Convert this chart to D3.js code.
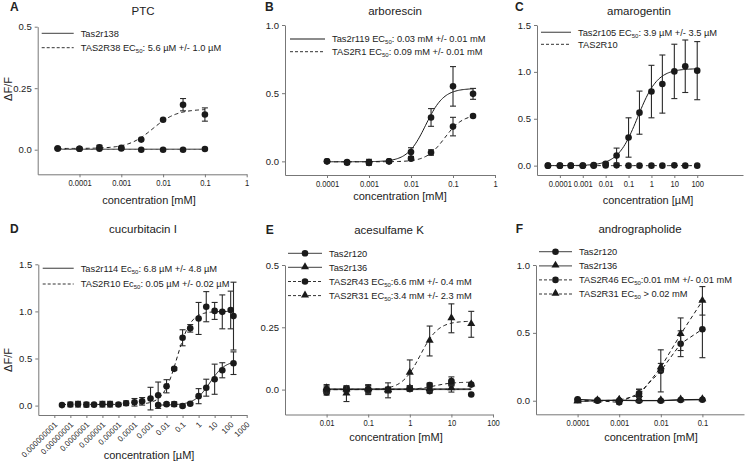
<!DOCTYPE html>
<html>
<head>
<meta charset="utf-8">
<script src="https://cdn.jsdelivr.net/npm/d3@7"></script>
<style>
  body { margin: 0; background: #fff; }
  text { font-family: "Liberation Sans", Arial, sans-serif; fill: #222; }
</style>
</head>
<body>
<svg id="chart" width="745" height="461"></svg>
<script>
// ---- A: PTC (mM)
var concA = [0.00003, 0.0001, 0.0003, 0.001, 0.003, 0.01, 0.03, 0.1];
var tas2r138A = [0.005, 0.004, 0.004, 0.005, 0.0, 0.0, 0.0, 0.003];
var tas2r138AErr = [0.003, 0.003, 0.003, 0.003, 0.003, 0.002, 0.002, 0.003];
var tas2r38A = [0.005, 0.004, 0.01, 0.008, 0.041, 0.122, 0.183, 0.143];
var tas2r38AErr = [0.003, 0.003, 0.008, 0.004, 0.004, 0.005, 0.025, 0.027];
// fit: [bottom, top, logEC50, hill]
var fit138A = [0.002, 0.002, -2, 1];
var fit38A = [0.005, 0.165, -2.25, 1.5];

// ---- B: arborescin (mM)
var concB = [0.0001, 0.0003, 0.001, 0.003, 0.01, 0.03, 0.1, 0.3];
var tas2r119B = [0.0, -0.005, -0.005, 0.0, 0.068, 0.322, 0.55, 0.495];
var tas2r119BErr = [0.004, 0.01, 0.02, 0.01, 0.032, 0.065, 0.145, 0.04];
var tas2r1B = [0.0, -0.01, -0.012, 0.0, 0.02, 0.065, 0.255, 0.333];
var tas2r1BErr = [0.004, 0.01, 0.015, 0.006, 0.01, 0.02, 0.068, 0.005];
var fit119B = [-0.003, 0.535, -1.65, 2];
var fit1B = [-0.003, 0.345, -1.2, 2];

// ---- C: amarogentin (µM)
var concC = [0.00003, 0.0001, 0.0003, 0.001, 0.003, 0.01, 0.03, 0.1, 0.3, 1, 3, 10, 30, 100];
var tas2r105C = [0.0, 0.0, 0.0, 0.0, 0.005, 0.02, 0.107, 0.30, 0.565, 0.79, 0.87, 1.005, 1.06, 1.013];
var tas2r105CErr = [0.004, 0.004, 0.004, 0.004, 0.01, 0.015, 0.08, 0.21, 0.23, 0.28, 0.31, 0.29, 0.28, 0.31];
var tas2r10C = [0, 0, 0, 0, 0, 0.002, 0.003, 0, 0, 0, 0, 0.003, 0, 0];
var tas2r10CErr = [0.003, 0.003, 0.003, 0.003, 0.003, 0.003, 0.003, 0.003, 0.003, 0.003, 0.003, 0.003, 0.003, 0.003];
var fit105C = [0.0, 1.035, -0.6, 1];
var fit10C = [0.0, 0.0, 0, 1];

// ---- D: cucurbitacin I (µM)
var concD10 = [3e-9, 1e-8, 3e-8, 1e-7, 3e-7, 1e-6, 3e-6, 1e-5, 3e-5, 1e-4, 3e-4, 0.001, 0.003, 0.01, 0.03, 0.1, 0.3, 1, 3, 10, 30, 100, 150];
var tas2r10D = [0.005, 0.012, 0.015, 0.01, 0.01, 0.015, 0.015, 0.012, 0.025, 0.035, 0.045, 0.074, 0.11, 0.205, 0.39, 0.72, 0.82, 0.925, 1.05, 1.005, 0.995, 1.015, 0.95];
var tas2r10DErr = [0.004, 0.025, 0.03, 0.025, 0.01, 0.03, 0.03, 0.015, 0.025, 0.04, 0.04, 0.12, 0.14, 0.07, 0.015, 0.085, 0.04, 0.17, 0.16, 0.09, 0.18, 0.2, 0.36];
var concD114 = [0.003, 0.01, 0.03, 0.1, 0.3, 1, 3, 10, 30, 150];
var tas2r114D = [0.005, 0.015, 0.015, -0.005, 0.02, 0.10, 0.19, 0.28, 0.375, 0.45];
var tas2r114DErr = [0.01, 0.015, 0.025, 0.01, 0.01, 0.08, 0.09, 0.16, 0.08, 0.12];
var fit10D = [0.012, 1.0, -1.35, 1];
var fit114D = [0.005, 0.48, 0.7, 0.9];

// ---- E: acesulfame K (mM)
var concE = [0.01, 0.03, 0.1, 0.3, 1, 3, 10, 30];
var tas2r120E = [-0.012, 0.002, 0.0, -0.002, 0.002, -0.006, 0.024, -0.02];
var tas2r120EErr = [0.01, 0.008, 0.01, 0.01, 0.008, 0.008, 0.01, 0.004];
var tas2r136E = [0.005, 0.0, 0.002, -0.003, 0.005, 0.002, 0.005, 0.02];
var tas2r136EErr = [0.015, 0.01, 0.015, 0.01, 0.01, 0.008, 0.015, 0.005];
var tas2r43E = [0.0, 0.002, 0.0, 0.0, 0.005, 0.018, 0.034, 0.02];
var tas2r43EErr = [0.01, 0.01, 0.015, 0.01, 0.01, 0.008, 0.017, 0.005];
var tas2r31E = [0.0, -0.016, 0.0, -0.003, 0.067, 0.195, 0.286, 0.262];
var tas2r31EErr = [0.015, 0.032, 0.02, 0.03, 0.052, 0.06, 0.058, 0.052];
var fit120E = [0.0, 0.0, 0, 1];
var fit136E = [0.003, 0.003, 0, 1];
var fit43E = [0.0, 0.03, 0.6, 2];
var fit31E = [0.0, 0.275, 0.25, 2];

// ---- F: andrographolide (mM)
var concF = [0.0001, 0.0003, 0.001, 0.003, 0.01, 0.03, 0.1];
var tas2r120F = [0.01, 0.004, 0.002, 0.0, 0.0, 0.005, 0.007];
var tas2r120FErr = [0.004, 0.004, 0.004, 0.004, 0.004, 0.004, 0.004];
var tas2r136F = [-0.005, 0.0, 0.005, 0.002, 0.002, 0.008, 0.01];
var tas2r136FErr = [0.004, 0.004, 0.004, 0.004, 0.004, 0.004, 0.004];
var tas2r46F = [0.005, 0.0, -0.012, 0.054, 0.22, 0.42, 0.527];
var tas2r46FErr = [0.005, 0.005, 0.012, 0.03, 0.155, 0.095, 0.21];
var tas2r31F = [-0.005, 0.0, 0.005, 0.04, 0.245, 0.49, 0.736];
var tas2r31FErr = [0.004, 0.004, 0.005, 0.045, 0.03, 0.12, 0.105];

// axis ticks
var mMTicks = [0.0001, 0.001, 0.01, 0.1, 1];
var mMLabels = ["0.0001", "0.001", "0.01", "0.1", "1"];
var ticksC = [0.0001, 0.001, 0.01, 0.1, 1, 10, 100];
var labelsC = ["0.0001", "0.001", "0.01", "0.1", "1", "10", "100"];
var ticksD = [1e-9, 1e-8, 1e-7, 1e-6, 1e-5, 1e-4, 1e-3, 0.01, 0.1, 1, 10, 100, 1000];
var labelsD = ["0.000000001", "0.00000001", "0.0000001", "0.000001", "0.00001", "0.0001", "0.001", "0.01", "0.1", "1", "10", "100", "1000"];
var ticksE = [0.01, 0.1, 1, 10, 100];
var labelsE = ["0.01", "0.1", "1", "10", "100"];
var ticksF = [0.0001, 0.001, 0.01, 0.1];
var labelsF = ["0.0001", "0.001", "0.01", "0.1"];

var svg = d3.select("#chart");
var ink = "#1a1a1a";

function hill(p, c) {
  return p[0] + (p[1] - p[0]) / (1 + Math.pow(10, (p[2] - Math.log10(c)) * p[3]));
}

function marker(sel, shape, px, py) {
  if (shape == "tri") {
    sel.append("path")
      .attr("d", d3.symbol().type(d3.symbolTriangle).size(28)())
      .attr("transform", "translate(" + px + "," + (py - 0.5) + ")")
      .attr("fill", ink);
  } else {
    sel.append("circle").attr("cx", px).attr("cy", py).attr("r", 3.3).attr("fill", ink);
  }
}

function drawPanel(p) {
  var g = svg.append("g");
  var x = d3.scaleLog().domain(p.xDomain).range([p.left, p.right]);
  var y = d3.scaleLinear().domain(p.yDomain).range([p.bottom, p.top]);

  var xAxis = g.append("g")
    .attr("transform", "translate(0," + p.bottom + ")")
    .call(d3.axisBottom(x).tickValues(p.xTicks)
      .tickFormat(function(d, i) { return p.xLabels[i]; })
      .tickSize(3).tickSizeOuter(0).tickPadding(2));
  var yAxis = g.append("g")
    .attr("transform", "translate(" + p.left + ",0)")
    .call(d3.axisLeft(y).tickValues(p.yTicks)
      .tickFormat(function(d, i) { return p.yLabels[i]; })
      .tickSize(3).tickSizeOuter(0).tickPadding(3));
  g.selectAll(".domain, .tick line").attr("stroke", "#777");
  g.selectAll(".tick text").style("font-family", '"Liberation Sans", Arial, sans-serif').attr("fill", "#333");
  yAxis.selectAll(".tick text").style("font-size", "9.5px");
  if (p.rotated) {
    xAxis.selectAll(".tick text")
      .style("font-size", "8px")
      .attr("text-anchor", "end")
      .attr("y", 0).attr("dy", "0.35em")
      .attr("transform", "translate(1,8) rotate(-45)");
  } else {
    xAxis.selectAll(".tick text")
      .style("font-size", "9.5px")
      .attr("transform", "scale(0.8,1)");
  }

  var line = d3.line().x(function(d) { return x(d[0]); }).y(function(d) { return y(d[1]); });

  p.series.forEach(function(s) {
    var pts;
    if (s.fit) {
      var lo = Math.log10(d3.min(s.x)), hi = Math.log10(d3.max(s.x));
      pts = d3.range(0, 121).map(function(i) {
        var c = Math.pow(10, lo + (hi - lo) * i / 120);
        return [c, hill(s.fit, c)];
      });
    } else {
      pts = s.x.map(function(c, i) { return [c, s.y[i]]; });
    }
    g.append("path").datum(pts)
      .attr("d", line)
      .attr("fill", "none")
      .attr("stroke", ink)
      .attr("stroke-width", 1)
      .attr("stroke-dasharray", s.dashed ? "4,3" : null);

    s.x.forEach(function(c, i) {
      var e = s.err[i];
      if (e > 0.006) {
        var cx = x(c), y1 = y(s.y[i] - e), y2 = y(s.y[i] + e);
        g.append("line").attr("x1", cx).attr("x2", cx).attr("y1", y1).attr("y2", y2)
          .attr("stroke", "#2a2a2a").attr("stroke-width", 1.1);
        [y1, y2].forEach(function(yy) {
          g.append("line").attr("x1", cx - 3).attr("x2", cx + 3).attr("y1", yy).attr("y2", yy)
            .attr("stroke", "#2a2a2a").attr("stroke-width", 1.1);
        });
      }
    });
    s.x.forEach(function(c, i) { marker(g, s.shape, x(c), y(s.y[i])); });
  });

  // legend
  p.legend.forEach(function(l, i) {
    var ly = p.legY + i * p.legStep;
    g.append("line")
      .attr("x1", p.legX).attr("x2", p.legX + p.legLen)
      .attr("y1", ly).attr("y2", ly)
      .attr("stroke", l.dashed ? "#333" : "#666")
      .attr("stroke-width", l.dashed ? 1 : 1.3)
      .attr("stroke-dasharray", l.dashed ? "3,2" : null);
    if (l.shape) marker(g, l.shape, p.legX + p.legLen / 2, ly);
    var t = g.append("text")
      .attr("x", p.legX + p.legLen + 7).attr("y", ly + 3.3)
      .style("font-size", "9.3px");
    t.append("tspan").text(l.text[0]);
    if (l.text.length > 1) {
      t.append("tspan").attr("dy", 2).style("font-size", "6px").text(l.text[1]);
      t.append("tspan").attr("dy", -2).text(l.text[2]);
    }
  });

  g.append("text").attr("x", p.titleX).attr("y", p.titleY)
    .attr("text-anchor", "middle").style("font-size", "11.5px").style("font-weight", "normal").text(p.title);
  g.append("text").attr("x", p.letterX).attr("y", p.letterY)
    .style("font-size", "12px").style("font-weight", "bold").text(p.letter);
  g.append("text").attr("x", p.xLabX).attr("y", p.xLabY)
    .attr("text-anchor", "middle").style("font-size", "11px").text(p.xLabel);
  if (p.yLabY) {
    g.append("text")
      .attr("transform", "translate(12," + p.yLabY + ") rotate(-90)")
      .attr("text-anchor", "middle").style("font-size", "11px").text("\u0394F/F");
  }
}

var panels = [
  {
    letter: "A", letterX: 10, letterY: 11, title: "PTC", titleX: 143, titleY: 15,
    left: 37.7, right: 246.7, top: 26.7, bottom: 174.3,
    xDomain: [1e-5, 1], yDomain: [-0.1, 0.5],
    xTicks: mMTicks, xLabels: mMLabels,
    yTicks: [0, 0.25, 0.5], yLabels: ["0.0", "0.25", "0.5"],
    xLabel: "concentration [mM]", xLabX: 149, xLabY: 204, yLabY: 89,
    legX: 41.7, legLen: 32, legY: 33.3, legStep: 14.4,
    legend: [
      { text: ["Tas2r138"] },
      { text: ["TAS2R38 EC", "50", ": 5.6 \u00b5M +/- 1.0 \u00b5M"], dashed: true }
    ],
    series: [
      { x: concA, y: tas2r138A, err: tas2r138AErr, fit: fit138A, shape: "circle" },
      { x: concA, y: tas2r38A, err: tas2r38AErr, fit: fit38A, dashed: true, shape: "circle" }
    ]
  },
  {
    letter: "B", letterX: 265, letterY: 11, title: "arborescin", titleX: 395, titleY: 15,
    left: 285, right: 495, top: 25, bottom: 175,
    xDomain: [1e-5, 1], yDomain: [-0.1, 1.0],
    xTicks: mMTicks, xLabels: mMLabels,
    yTicks: [0, 0.5, 1.0], yLabels: ["0.0", "0.5", "1.0"],
    xLabel: "concentration [mM]", xLabX: 400, xLabY: 199.5,
    legX: 290, legLen: 35, legY: 39, legStep: 12.7,
    legend: [
      { text: ["Tas2r119 EC", "50", ": 0.03 mM +/- 0.01 mM"] },
      { text: ["TAS2R1 EC", "50", ": 0.09 mM +/- 0.01 mM"], dashed: true }
    ],
    series: [
      { x: concB, y: tas2r119B, err: tas2r119BErr, fit: fit119B, shape: "circle" },
      { x: concB, y: tas2r1B, err: tas2r1BErr, fit: fit1B, dashed: true, shape: "circle" }
    ]
  },
  {
    letter: "C", letterX: 515, letterY: 11, title: "amarogentin", titleX: 639, titleY: 15,
    left: 537, right: 743, top: 25, bottom: 175,
    xDomain: [1e-5, 1e4], yDomain: [-0.1, 1.5],
    xTicks: ticksC, xLabels: labelsC,
    yTicks: [0, 0.5, 1.0, 1.5], yLabels: ["0.0", "0.5", "1.0", "1.5"],
    xLabel: "concentration [\u00b5M]", xLabX: 648, xLabY: 204,
    legX: 541, legLen: 30, legY: 32.3, legStep: 12,
    legend: [
      { text: ["Tas2r105 EC", "50", ": 3.9 \u00b5M +/- 3.5 \u00b5M"] },
      { text: ["TAS2R10"], dashed: true }
    ],
    series: [
      { x: concC, y: tas2r10C, err: tas2r10CErr, fit: fit10C, dashed: true, shape: "circle" },
      { x: concC, y: tas2r105C, err: tas2r105CErr, fit: fit105C, shape: "circle" }
    ]
  },
  {
    letter: "D", letterX: 10, letterY: 233, title: "cucurbitacin I", titleX: 143, titleY: 233,
    left: 38.3, right: 246.7, top: 264.3, bottom: 415,
    xDomain: [1e-10, 1000], yDomain: [-0.1, 1.5],
    xTicks: ticksD, xLabels: labelsD, rotated: true,
    yTicks: [0, 0.5, 1.0, 1.5], yLabels: ["0.0", "0.5", "1.0", "1.5"],
    xLabel: "concentration [\u00b5M]", xLabX: 149, xLabY: 459, yLabY: 360,
    legX: 42.7, legLen: 31, legY: 268.3, legStep: 15.7,
    legend: [
      { text: ["Tas2r114 Ec", "50", ": 6.8 \u00b5M +/- 4.8 \u00b5M"] },
      { text: ["TAS2R10 Ec", "50", ": 0.05 \u00b5M +/- 0.02 \u00b5M"], dashed: true }
    ],
    series: [
      { x: concD10, y: tas2r10D, err: tas2r10DErr, fit: fit10D, dashed: true, shape: "circle" },
      { x: concD114, y: tas2r114D, err: tas2r114DErr, fit: fit114D, shape: "circle" }
    ]
  },
  {
    letter: "E", letterX: 265.7, letterY: 234, title: "acesulfame K", titleX: 389, titleY: 234,
    left: 285, right: 493, top: 265, bottom: 414.5,
    xDomain: [0.001, 100], yDomain: [-0.1, 0.5],
    xTicks: ticksE, xLabels: labelsE,
    yTicks: [0, 0.25, 0.5], yLabels: ["0.0", "0.25", "0.5"],
    xLabel: "concentration [mM]", xLabX: 396, xLabY: 441,
    legX: 288, legLen: 34, legY: 253.3, legStep: 14.1,
    legend: [
      { text: ["Tas2r120"], shape: "circle" },
      { text: ["Tas2r136"], shape: "tri" },
      { text: ["TAS2R43 EC", "50", ":6.6 mM +/- 0.4 mM"], dashed: true, shape: "circle" },
      { text: ["TAS2R31 EC", "50", ":3.4 mM +/- 2.3 mM"], dashed: true, shape: "tri" }
    ],
    series: [
      { x: concE, y: tas2r120E, err: tas2r120EErr, fit: fit120E, shape: "circle" },
      { x: concE, y: tas2r136E, err: tas2r136EErr, fit: fit136E, shape: "tri" },
      { x: concE, y: tas2r43E, err: tas2r43EErr, fit: fit43E, dashed: true, shape: "circle" },
      { x: concE, y: tas2r31E, err: tas2r31EErr, fit: fit31E, dashed: true, shape: "tri" }
    ]
  },
  {
    letter: "F", letterX: 515.7, letterY: 233, title: "andrographolide", titleX: 640, titleY: 233,
    left: 536, right: 744, top: 265, bottom: 414.3,
    xDomain: [1e-5, 1], yDomain: [-0.1, 1.0],
    xTicks: ticksF, xLabels: labelsF,
    yTicks: [0, 0.5, 1.0], yLabels: ["0.0", "0.5", "1.0"],
    xLabel: "concentration [mM]", xLabX: 651, xLabY: 441,
    legX: 539, legLen: 33, legY: 251.7, legStep: 14.1,
    legend: [
      { text: ["Tas2r120"], shape: "circle" },
      { text: ["Tas2r136"], shape: "tri" },
      { text: ["TAS2R46 EC", "50", ":0.01 mM +/- 0.01 mM"], dashed: true, shape: "circle" },
      { text: ["TAS2R31 EC", "50", " > 0.02 mM"], dashed: true, shape: "tri" }
    ],
    series: [
      { x: concF, y: tas2r120F, err: tas2r120FErr, shape: "circle" },
      { x: concF, y: tas2r136F, err: tas2r136FErr, shape: "tri" },
      { x: concF, y: tas2r46F, err: tas2r46FErr, dashed: true, shape: "circle" },
      { x: concF, y: tas2r31F, err: tas2r31FErr, dashed: true, shape: "tri" }
    ]
  }
];

panels.forEach(drawPanel);
</script>
</body>
</html>
